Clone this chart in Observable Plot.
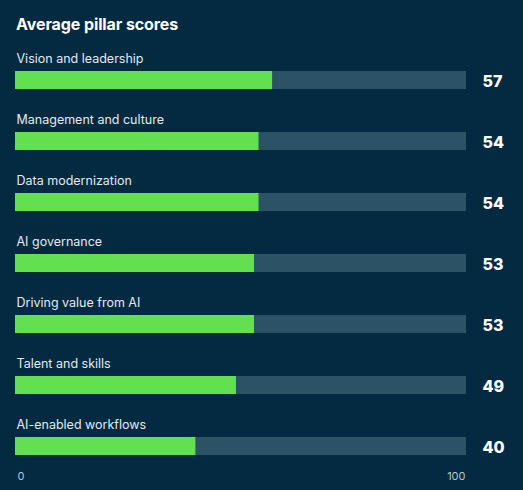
<!DOCTYPE html>
<html>
<head>
<meta charset="utf-8">
<script src="https://cdn.jsdelivr.net/npm/d3@7"></script>
<script src="https://cdn.jsdelivr.net/npm/@observablehq/plot@0.6"></script>
<style>
  html, body { margin: 0; padding: 0; background: #042a42; }
  body { width: 523px; height: 490px; overflow: hidden; font-family: Inter, "Noto Sans", sans-serif; }
  #title { color: #ffffff; font-weight: 700; font-size: 16px; line-height: 20px; padding: 14px 0 0 16px; height: 26px; letter-spacing: -0.1px; }
</style>
</head>
<body>
<div id="title">Average pillar scores</div>
<div id="chart"></div>
<script>
const categories = ["Vision and leadership", "Management and culture", "Data modernization", "AI governance", "Driving value from AI", "Talent and skills", "AI-enabled workflows"];
const scores = [57, 54, 54, 53, 53, 49, 40];
const maxScore = 100;
const tickValues = [0, 100];
const tickLabels = ["0", "100"];

const data = categories.map((c, i) => ({category: c, score: scores[i], max: maxScore}));
const ticks = tickValues.map((v, i) => ({x: v, label: tickLabels[i]}));

const chart = Plot.plot({
  width: 523,
  height: 450,
  marginLeft: 15,
  marginRight: 57,
  marginTop: 7,
  marginBottom: 11,
  style: {background: "#042a42", fontFamily: "Inter, 'Noto Sans', sans-serif"},
  x: {domain: [0, 100], axis: null},
  y: {domain: categories, axis: null, paddingInner: 0.71, paddingOuter: 0.355},
  marks: [
    Plot.barX(data, {y: "category", x: "max", fill: "#2c5265"}),
    Plot.barX(data, {y: "category", x: "score", fill: "#62e04f"}),
    Plot.text(data, {y: "category", x: 0, text: "category", textAnchor: "start", dy: -22, dx: 1, fill: "#e3e9ed", fontSize: 12.5}),
    Plot.text(data, {y: "category", x: "max", text: d => String(d.score), textAnchor: "start", dx: 16, dy: 1, fill: "#ffffff", fontSize: 16, fontWeight: 800}),
    Plot.text(ticks.slice(0, 1), {x: "x", text: "label", frameAnchor: "bottom", dy: 0, textAnchor: "start", dx: 2, fill: "#b9c6ce", fontSize: 11}),
    Plot.text(ticks.slice(1), {x: "x", text: "label", frameAnchor: "bottom", dy: 0, textAnchor: "end", dx: -1, fill: "#b9c6ce", fontSize: 11})
  ]
});
document.getElementById("chart").appendChild(chart);
</script>
</body>
</html>
